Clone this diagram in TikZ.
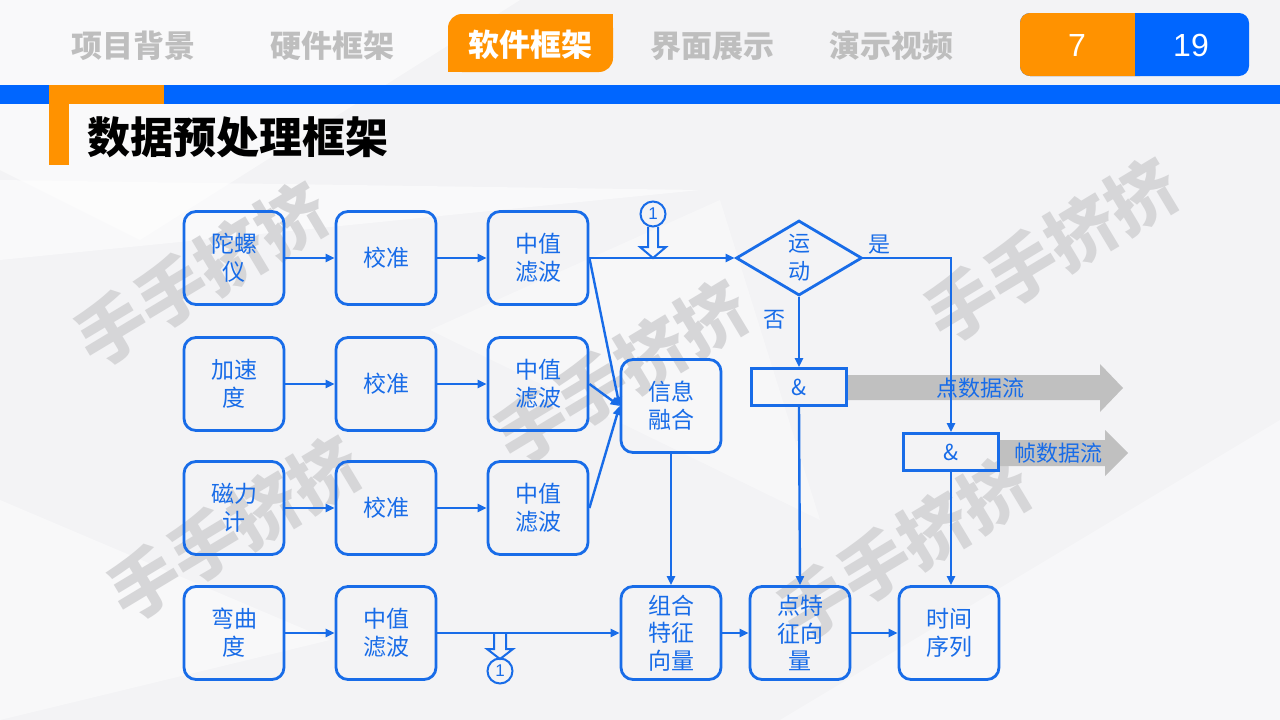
\documentclass[tikz,border=0pt]{standalone}
\usepackage{fontspec}
\setmainfont{Noto Sans CJK SC}
\newfontfamily\latinsans{Liberation Sans}
\usetikzlibrary{shapes.geometric,arrows.meta}
\definecolor{dblue}{RGB}{24,108,232}
\definecolor{hblue}{RGB}{0,102,255}
\definecolor{horange}{RGB}{255,146,0}
\definecolor{tabgray}{RGB}{190,190,190}
\definecolor{arrgray}{RGB}{192,192,192}
\definecolor{bgc}{RGB}{243,243,245}
\definecolor{wmc}{RGB}{214,214,216}
\tikzset{
  box/.style={draw=dblue, line width=2.8pt, rounded corners=12pt, minimum width=100pt, minimum height=93pt, inner sep=0pt, align=center, text=dblue, font=\fontsize{23}{28}\selectfont},
  andbox/.style={draw=dblue, line width=2.8pt, minimum width=95pt, minimum height=37pt, inner sep=0pt, text=dblue, font=\fontsize{22}{26}\selectfont},
  decbox/.style={diamond, draw=dblue, line width=2.8pt, minimum width=126pt, minimum height=75pt, inner sep=0pt, align=center, text=dblue, font=\fontsize{22}{28}\selectfont},
  conn/.style={draw=dblue, line width=2.4pt, -{Triangle[length=9pt,width=8pt]}},
  lab/.style={text=dblue, font=\fontsize{22}{26}\selectfont, inner sep=0pt},
  circ/.style={circle, draw=dblue, line width=2pt, minimum size=25pt, inner sep=0pt, text=dblue, font=\latinsans\fontsize{17}{17}\selectfont},
  hollow/.style={draw=dblue, line width=2pt, line join=miter},
  tabtext/.style={text=tabgray, font=\fontsize{31}{31}\bfseries, inner sep=0pt},
  wmark/.style={text=wmc, font=\fontsize{70}{70}\bfseries, rotate=31, inner sep=0pt},
  flowtext/.style={text=dblue, font=\fontsize{22}{26}\selectfont, inner sep=0pt},
}
\begin{document}
\begin{tikzpicture}[x=1pt,y=-1pt]
\useasboundingbox (0,0) rectangle (1280,720);
% background
\fill[bgc] (0,0) rectangle (1280,720);
\fill[white,opacity=0.55] (0,0) -- (520,0) -- (140,240) -- (0,170) -- cycle;
\fill[white,opacity=0.45] (0,500) -- (330,640) -- (0,720) -- cycle;
\fill[white,opacity=0.4] (780,720) -- (1280,420) -- (1280,720) -- cycle;
\fill[white,opacity=0.35] (430,330) -- (720,200) -- (820,520) -- cycle;
\fill[white,opacity=0.5] (0,180) -- (700,190) -- (0,260) -- cycle;
% watermarks
\node[wmark] (wm1) at (202,274) {手手挤挤};
\node[wmark] (wm2) at (622,372) {手手挤挤};
\node[wmark] (wm3) at (1052,250) {手手挤挤};
\node[wmark] (wm4) at (235,528) {手手挤挤};
\node[wmark] (wm5) at (905,548) {手手挤挤};
% header tabs
\node[tabtext] (t1) at (133,46) {项目背景};
\node[tabtext] (t2) at (332,46) {硬件框架};
\fill[horange, rounded corners=14pt] (448,14) rectangle (613,72);
\fill[horange] (590,14) rectangle (613,40);
\fill[horange] (448,50) rectangle (470,72);
\node[tabtext, text=white] (t3) at (530,45) {软件框架};
\node[tabtext] (t4) at (712,46) {界面展示};
\node[tabtext] (t5) at (891,46) {演示视频};
% page counter
\fill[hblue, rounded corners=10pt] (1020,13) rectangle (1249,76);
\fill[horange, rounded corners=10pt] (1020,13) rectangle (1150,76);
\fill[hblue] (1135,13) rectangle (1152,76);
\node[text=white, font=\latinsans\fontsize{32}{32}\selectfont] (p1) at (1077,45) {7};
\node[text=white, font=\latinsans\fontsize{32}{32}\selectfont] (p2) at (1191,45) {19};
% bar and title
\fill[hblue] (0,85) rectangle (1280,104);
\fill[horange] (49,85) rectangle (164,104);
\fill[horange] (49,85) rectangle (69,165);
\node[anchor=west, inner sep=0pt, font=\fontsize{43}{43}\bfseries] (title) at (87,137) {数据预处理框架};
% gray flow arrows
\fill[arrgray] (848,375) -- (1100,375) -- (1100,364) -- (1123,388) -- (1100,412) -- (1100,400) -- (848,400) -- cycle;
\fill[arrgray] (999,440) -- (1105,440) -- (1105,430) -- (1128,453) -- (1105,476) -- (1105,466) -- (999,466) -- cycle;
% boxes
\node[box] (g1) at (234,258) {陀螺\\仪};
\node[box] (c1) at (386,258) {校准};
\node[box] (m1) at (538,258) {中值\\滤波};
\node[box] (g2) at (234,384) {加速\\度};
\node[box] (c2) at (386,384) {校准};
\node[box] (m2) at (538,384) {中值\\滤波};
\node[box] (g3) at (234,508) {磁力\\计};
\node[box] (c3) at (386,508) {校准};
\node[box] (m3) at (538,508) {中值\\滤波};
\node[box] (g4) at (234,633) {弯曲\\度};
\node[box] (m4) at (386,633) {中值\\滤波};
\node[box] (fuse) at (671,406) {信息\\融合};
\node[box, font=\fontsize{23}{27.5}\selectfont] (comb) at (671,633) {组合\\特征\\向量};
\node[box, font=\fontsize{23}{27.5}\selectfont] (pt) at (800,633) {点特\\征向\\量};
\node[box] (ts) at (949,633) {时间\\序列};
\node[decbox] (dec) at (799,258) {运\\动};
\node[andbox] (and1) at (799,387) {\&};
\node[andbox] (and2) at (951,452) {\&};
% flow labels
\node[flowtext] (f1) at (980,388) {点数据流};
\node[flowtext] (f2) at (1058,453) {帧数据流};
% connectors
\draw[conn] (g1) -- (c1);
\draw[conn] (c1) -- (m1);
\draw[conn] (g2) -- (c2);
\draw[conn] (c2) -- (m2);
\draw[conn] (g3) -- (c3);
\draw[conn] (c3) -- (m3);
\draw[conn] (g4) -- (m4);
\draw[conn] (m4) -- (comb);
\draw[conn] (m1.east) -- (dec.west);
\draw[conn] (m1.east) -- (fuse.west);
\draw[conn] (m2.east) -- (fuse.west);
\draw[conn] (m3.east) -- (fuse.west);
\draw[conn] (fuse) -- (comb);
\draw[conn] (comb) -- (pt);
\draw[conn] (pt) -- (ts);
\draw[conn] (dec.south) -- (and1.north);
\draw[conn] (dec.east) -| (and2.north);
\draw[conn] (and1.south) -- (pt.north);
\draw[conn] (and2.south) -- (and2.south |- ts.north);
\node[lab] (yes) at (879,245) {是};
\node[lab] (no) at (774,320) {否};
% circled connectors
\node[circ] (k1) at (653,214) {1};
\draw[hollow] (648,227) -- (648,247) -- (640,247) -- (653,258) -- (666,247) -- (658,247) -- (658,227);
\node[circ] (k2) at (500,671) {1};
\draw[hollow] (494,634) -- (494,649) -- (487,649) -- (500,659) -- (513,649) -- (506,649) -- (506,634);
\end{tikzpicture}
\end{document}
